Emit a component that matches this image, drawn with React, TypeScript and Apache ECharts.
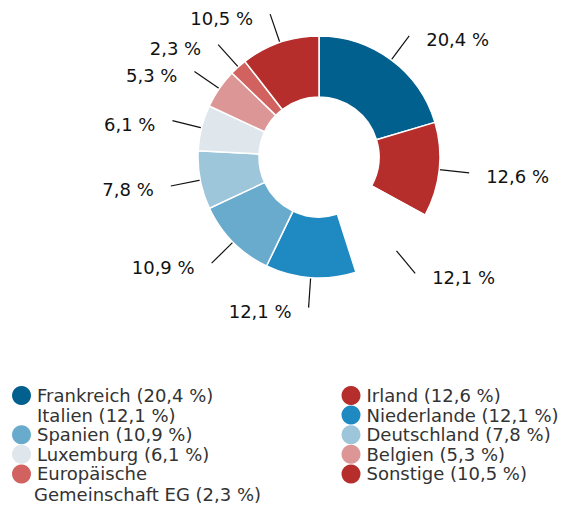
import React, { useEffect, useRef } from "react";
import * as echarts from "echarts";

const categories = [
  "Frankreich",
  "Irland",
  "Italien",
  "Niederlande",
  "Spanien",
  "Deutschland",
  "Luxemburg",
  "Belgien",
  "Europäische Gemeinschaft EG",
  "Sonstige",
];
const shares = [20.4, 12.6, 12.1, 12.1, 10.9, 7.8, 6.1, 5.3, 2.3, 10.5];
const sliceColors = [
  "#02608F",
  "#B52E2C",
  "#FFFFFF",
  "#1F89C2",
  "#69ABCC",
  "#9DC6DB",
  "#DFE6EC",
  "#DC9695",
  "#D1625F",
  "#B52E2C",
];
const legendLeftNames = ["Frankreich", "Italien", "Spanien", "Luxemburg", "Europäische Gemeinschaft EG"];
const legendRightNames = ["Irland", "Niederlande", "Deutschland", "Belgien", "Sonstige"];

const FONT = "DejaVu Sans";
const fmt = (v: number) => v.toFixed(1).replace(".", ",") + " %";
const shareOf = (name: string) => shares[categories.indexOf(name)];

export default function App() {
  const ref = useRef<HTMLDivElement>(null);
  useEffect(() => {
    if (!ref.current) return;
    const chart = echarts.init(ref.current, undefined, { renderer: "svg" });
    const legendBase = {
      orient: "vertical" as const,
      icon: "circle",
      itemWidth: 21,
      itemHeight: 19,
      itemGap: 0.6,
      itemStyle: { borderWidth: 0 },
      selectedMode: false,
      textStyle: { fontFamily: FONT, fontSize: 18, color: "#333333", lineHeight: 19 },
      formatter: (name: string) =>
        name === "Europäische Gemeinschaft EG" ? "Europäische" : `${name} (${fmt(shareOf(name))})`,
    };
    chart.setOption({
      animation: false,
      backgroundColor: "#ffffff",
      legend: [
        { ...legendBase, left: 7, top: 381, data: legendLeftNames },
        { ...legendBase, left: 336.5, top: 381, data: legendRightNames },
      ],
      graphic: [
        {
          type: "text",
          left: 34,
          top: 485,
          style: {
            text: "Gemeinschaft EG (" + fmt(shareOf("Europäische Gemeinschaft EG")) + ")",
            fontFamily: FONT,
            fontSize: 18,
            fill: "#333333",
          },
        },
      ],
      series: [
        {
          type: "pie",
          center: [319, 157],
          radius: [60, 121],
          startAngle: 90,
          clockwise: true,
          avoidLabelOverlap: false,
          itemStyle: { borderColor: "#ffffff", borderWidth: 1.5 },
          label: {
            show: true,
            position: "outside",
            formatter: (p: any) => fmt(p.value),
            fontFamily: FONT,
            fontSize: 18,
            color: "#111111",
            distanceToLabelLine: 17,
          },
          labelLayout: { dy: 4 },
          labelLine: {
            show: true,
            length: 30,
            length2: 0,
            lineStyle: { color: "#111111", width: 1.2 },
          },
          emphasis: { disabled: true },
          data: categories.map((name, i) => ({
            name,
            value: shares[i],
            itemStyle: { color: sliceColors[i] },
          })),
        },
      ],
    });
    return () => chart.dispose();
  }, []);
  return (
    <div
      ref={ref}
      style={{ position: "fixed", left: 0, top: 0, width: 563, height: 507 }}
    />
  );
}
